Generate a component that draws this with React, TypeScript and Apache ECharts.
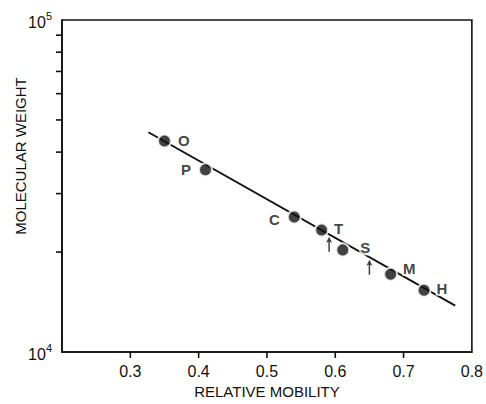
import React, { useEffect, useRef } from "react";
import * as echarts from "echarts";

const names = ["O", "P", "C", "T", "S", "M", "H"];
const mobility = [0.35, 0.41, 0.54, 0.58, 0.611, 0.681, 0.73];
const molWeight = [43200, 35400, 25500, 23300, 20300, 17150, 15350];
const labelSide = ["right", "left", "left", "right", "right", "right", "right"];
const labelShift = [[1, -1], [-2, 0], [-2, 2], [0, -2], [5, -2], [0, -6], [0, -2]];

const fitX = [0.3265, 0.7756];
const fitY = [45900, 13790];

const arrowX = [0.591, 0.65];
const arrowY = [21100, 18000];

const xTicks = [0.3, 0.4, 0.5, 0.6, 0.7];
const xLabels = [0.3, 0.4, 0.5, 0.6, 0.7, 0.8];
const yMinorTicks = [20000, 30000, 40000, 50000, 60000, 70000, 80000, 90000];

const X_MIN = 0.2;
const Y_MIN = 10000;

const FONT = "Liberation Sans, Arial, Helvetica, sans-serif";
const INK = "#111";

function tickSeries(data: number[][], dx: number, dy: number) {
  return {
    type: "custom",
    data,
    clip: false,
    silent: true,
    z: 5,
    renderItem: (_params: any, api: any) => {
      const p = api.coord([api.value(0), api.value(1)]);
      return {
        type: "line",
        shape: { x1: p[0], y1: p[1], x2: p[0] + dx, y2: p[1] + dy },
        style: { stroke: INK, lineWidth: 1.6 },
      };
    },
  };
}

export default function App() {
  const ref = useRef<HTMLDivElement>(null);
  useEffect(() => {
    if (!ref.current) return;
    const chart = echarts.init(ref.current, undefined, { renderer: "svg" });
    const points = names.map((n, i) => ({
      name: n,
      value: [mobility[i], molWeight[i]],
      label: {
        show: true,
        formatter: n,
        position: labelSide[i],
        distance: 4,
        offset: labelShift[i],
      },
    }));
    chart.setOption({
      animation: false,
      backgroundColor: "#fff",
      grid: {
        left: 62,
        right: 11,
        top: 20,
        bottom: 47,
        show: true,
        borderColor: INK,
        borderWidth: 1.6,
      },
      xAxis: {
        type: "value",
        min: 0.2,
        max: 0.8,
        interval: 0.1,
        name: "RELATIVE MOBILITY",
        nameLocation: "middle",
        nameGap: 32,
        nameTextStyle: { fontFamily: FONT, fontSize: 15, color: INK },
        axisLine: { show: true, lineStyle: { color: INK, width: 1.6 } },
        axisTick: { show: false },
        axisLabel: {
          customValues: xLabels,
          fontFamily: FONT,
          fontSize: 16,
          color: INK,
          margin: 11,
          formatter: (v: number) => String(Math.round(v * 10) / 10),
        },
        splitLine: { show: false },
      },
      yAxis: {
        type: "log",
        min: 10000,
        max: 100000,
        logBase: 10,
        axisLine: { show: true, lineStyle: { color: INK, width: 1.6 } },
        axisTick: { show: false },
        axisLabel: {
          margin: 10,
          formatter: (v: number) =>
            "{b|10}{s|" + Math.round(Math.log10(v)) + "}",
          rich: {
            b: { fontFamily: FONT, fontSize: 16, color: INK, verticalAlign: "bottom", lineHeight: 20 },
            s: { fontFamily: FONT, fontSize: 11, color: INK, verticalAlign: "top", lineHeight: 20, padding: [0, 0, 8, 0] },
          },
        },
        splitLine: { show: false },
        minorTick: { show: false },
      },
      graphic: [
        {
          type: "text",
          x: 20,
          y: 156,
          rotation: Math.PI / 2,
          style: {
            text: "MOLECULAR WEIGHT",
            font: "15px " + FONT,
            fill: INK,
            align: "center",
            verticalAlign: "middle",
          },
        },
      ],
      series: [
        {
          type: "line",
          data: fitX.map((x, i) => [x, fitY[i]]),
          showSymbol: false,
          lineStyle: { color: INK, width: 1.9 },
          z: 1,
        },
        {
          type: "scatter",
          data: points,
          symbol: "circle",
          symbolSize: 13,
          itemStyle: { color: INK, borderColor: "#fff", borderWidth: 2 },
          label: {
            fontFamily: FONT,
            fontSize: 15,
            fontWeight: "bold",
            color: INK,
            backgroundColor: "#fff",
            padding: [0, 1],
          },
          z: 3,
        },
        {
          type: "scatter",
          data: arrowX.map((x, i) => [x, arrowY[i]]),
          symbol: "path://M4,0 L8,6 L5,5 L5,15 L3,15 L3,5 L0,6 Z",
          symbolSize: [6, 15],
          itemStyle: { color: INK },
          z: 3,
        },
        tickSeries(xTicks.map((x) => [x, Y_MIN]), 0, 6),
        tickSeries(yMinorTicks.map((y) => [X_MIN, y]), -6, 0),
      ],
    });
    return () => chart.dispose();
  }, []);
  return (
    <div
      ref={ref}
      style={{ position: "fixed", left: 0, top: 0, width: 486, height: 404 }}
    />
  );
}
